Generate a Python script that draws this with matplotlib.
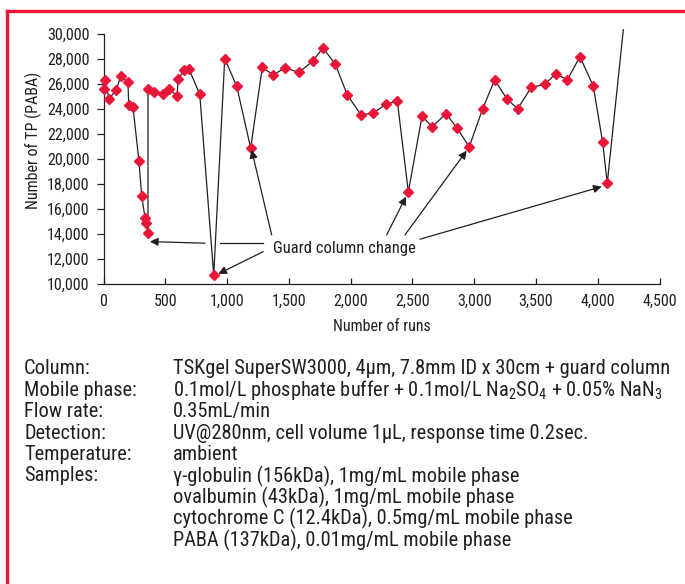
import matplotlib.pyplot as plt
from matplotlib.lines import Line2D

plt.rcParams['font.family'] = ['Roboto Condensed', 'Archivo Narrow',
                               'Liberation Sans', 'DejaVu Sans']
plt.rcParams['mathtext.default'] = 'regular'

# number of runs vs. theoretical plates (PABA)
runs = [0, 10, 45, 104, 139, 198, 204, 239, 287, 309, 336, 346, 360, 360,
        406, 484, 532, 595, 605, 654, 690, 779, 892, 981, 1078, 1191, 1285,
        1372, 1470, 1582, 1693, 1776, 1876, 1973, 2084, 2184, 2284, 2378,
        2467, 2578, 2661, 2772, 2861, 2960, 3069, 3166, 3266, 3352, 3462,
        3573, 3660, 3754, 3856, 3964, 4040, 4077, 4207]
tp = [25600, 26250, 24800, 25500, 26600, 26100, 24300, 24100, 19800, 17000,
      15300, 14850, 14100, 25600, 25300, 25150, 25600, 25000, 26350, 27100,
      27200, 25150, 10700, 28000, 25800, 20850, 27300, 26700, 27250, 26900,
      27800, 28850, 27550, 25100, 23500, 23650, 24350, 24600, 17350, 23400,
      22550, 23600, 22450, 20950, 24000, 26300, 24750, 24000, 25700, 25950,
      26800, 26300, 28150, 25800, 21300, 18050, 30300]

x_ticks = [0, 500, 1000, 1500, 2000, 2500, 3000, 3500, 4000, 4500]
y_ticks = [10000, 12000, 14000, 16000, 18000, 20000, 22000, 24000, 26000,
           28000, 30000]

note = 'Guard column change'
note_pos = (1954, 12800)
# (start, tip) of each arrow in data units
arrows = [((821, 13258), (376, 13386)),
          ((1293, 12588), (929, 10808)),
          ((1361, 13920), (1199, 20703)),
          ((2292, 13920), (2448, 16976)),
          ((2440, 13920), (2939, 20647)),
          ((2561, 13577), (4032, 17775))]
plain_lines = [((943, 13306), (1293, 13306))]

labels = ['Column:', 'Mobile phase:', 'Flow rate:', 'Detection:',
          'Temperature:', 'Samples:', '', '', '']
values = ['TSKgel SuperSW3000, 4µm, 7.8mm ID x 30cm + guard column',
          '0.1mol/L phosphate buffer + 0.1mol/L Na$_2$SO$_4$ + 0.05% NaN$_3$',
          '0.35mL/min',
          'UV@280nm, cell volume 1µL, response time 0.2sec.',
          'ambient',
          'γ-globulin (156kDa), 1mg/mL mobile phase',
          'ovalbumin (43kDa), 1mg/mL mobile phase',
          'cytochrome C (12.4kDa), 0.5mg/mL mobile phase',
          'PABA (137kDa), 0.01mg/mL mobile phase']

ink = '#231f20'
red = '#e8173a'

fig = plt.figure(figsize=(6.85, 5.84), dpi=100)
ax = fig.add_axes([0.1511, 0.5137, 0.8117, 0.4289])

ax.plot(runs, tp, color=ink, lw=0.9, marker='D', ms=4.6,
        mfc=red, mec=red, markevery=list(range(len(runs) - 1)),
        clip_on=False, zorder=3)

for (x0, y0), (x1, y1) in arrows:
    ax.annotate('', xy=(x1, y1), xytext=(x0, y0),
                arrowprops=dict(arrowstyle='-|>', color=ink, lw=0.9,
                                mutation_scale=12, shrinkA=0, shrinkB=0))
for (x0, y0), (x1, y1) in plain_lines:
    ax.plot([x0, x1], [y0, y1], color=ink, lw=0.9)
ax.text(note_pos[0], note_pos[1], note, ha='center', va='center',
        fontsize=12, color=ink)

ax.set_xlim(0, 4500)
ax.set_ylim(10000, 30000)
ax.set_xticks(x_ticks)
ax.set_yticks(y_ticks)
ax.set_xticklabels([f'{v:,}' for v in x_ticks])
ax.set_yticklabels([f'{v:,}' for v in y_ticks])
ax.tick_params(axis='x', direction='in', length=4, width=0.9, pad=7,
               labelsize=11.5, colors=ink)
ax.tick_params(axis='y', direction='out', length=5, width=0.9, pad=5,
               labelsize=11.5, colors=ink)
for s in ['top', 'right']:
    ax.spines[s].set_visible(False)
for s in ['left', 'bottom']:
    ax.spines[s].set_color(ink)
    ax.spines[s].set_linewidth(0.9)

ax.text(0.5, -0.168, 'Number of runs', transform=ax.transAxes,
        ha='center', va='center', fontsize=11.5, color=ink)
ax.text(-0.126, 0.575, 'Number of TP (PABA)', transform=ax.transAxes,
        ha='center', va='center', rotation=90, fontsize=11.5, color=ink)

# experimental conditions under the chart
row_y = 369
for lab, val in zip(labels, values):
    fy = 1 - row_y / 584
    fig.text(24 / 685, fy, lab, ha='left', va='center', fontsize=14.7, color=ink)
    fig.text(173 / 685, fy, val, ha='left', va='center', fontsize=14.7, color=ink)
    row_y += 21.4

# red frame on the left and top
fig.add_artist(Line2D([7 / 685, 7 / 685], [0, 1 - 11 / 584],
                      color=red, lw=2.4, transform=fig.transFigure))
fig.add_artist(Line2D([7 / 685, 1], [1 - 11 / 584, 1 - 11 / 584],
                      color=red, lw=2.4, transform=fig.transFigure))

fig.savefig('out.png', dpi=100)
